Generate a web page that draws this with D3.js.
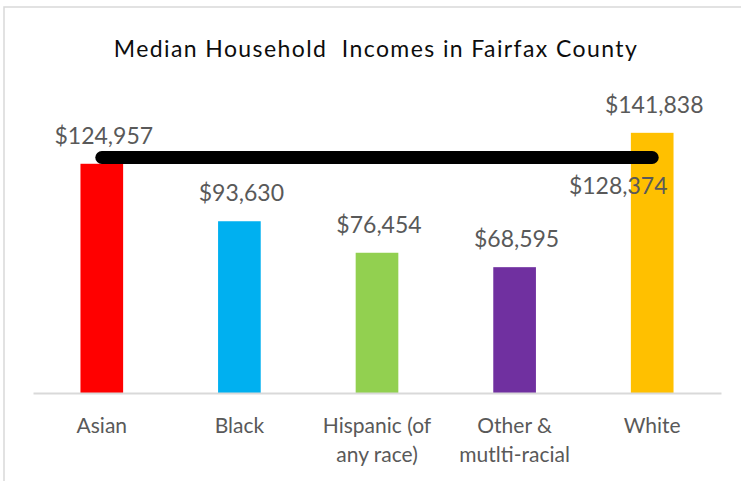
<!DOCTYPE html>
<html>
<head>
<meta charset="utf-8">
<script src="https://cdn.jsdelivr.net/npm/d3@7"></script>
<style>
  body { margin: 0; background: #fff; }
  text { font-family: Lato, "Open Sans", sans-serif; }
</style>
</head>
<body>
<script>
// chart data
const categories = ["Asian", "Black", "Hispanic (of any race)", "Other & mutlti-racial", "White"];
const categoryLines = [["Asian"], ["Black"], ["Hispanic (of", "any race)"], ["Other &", "mutlti-racial"], ["White"]];
const incomes = [124957, 93630, 76454, 68595, 141838];
const countyMedian = 128374;

// office palette, one per bar
const barColors = ["#FF0000", "#00B0F0", "#92D050", "#7030A0", "#FFC000"];

const W = 741, H = 483;
const svg = d3.select("body").append("svg")
    .attr("width", W)
    .attr("height", H);

// chart frame (only left and top edges are in the picture)
svg.append("path")
    .attr("d", "M4,481V7H741")
    .attr("fill", "none")
    .attr("stroke", "#d9d9d9")
    .attr("stroke-width", 1.5);

var xScale = d3.scaleBand()
    .domain(categories)
    .range([33, 721])
    .paddingInner(0.69)
    .paddingOuter(0.345);
var yScale = d3.scaleLinear().domain([0, 160000]).range([393, 99.5]);

const fmt = d => "$" + d3.format(",")(d);

// title
svg.append("text")
    .attr("x", 376)
    .attr("y", 57)
    .attr("text-anchor", "middle")
    .attr("font-size", "23px")
    .attr("letter-spacing", "1.4px")
    .attr("fill", "#0d0d0d")
    .style("white-space", "pre")
    .text("Median Household  Incomes in Fairfax County");

// bars
svg.selectAll(".bar")
    .data(incomes)
    .enter()
    .append("rect")
    .attr("class", "bar")
    .attr("x", (d, i) => xScale(categories[i]))
    .attr("width", xScale.bandwidth())
    .attr("y", d => yScale(d))
    .attr("height", d => yScale(0) - yScale(d))
    .attr("fill", (d, i) => barColors[i]);

// axis baseline
svg.append("g")
    .attr("transform", "translate(0," + yScale(0) + ")")
    .call(d3.axisBottom(xScale).tickSize(0).tickFormat(""))
    .call(g => g.select(".domain").attr("stroke", "#d9d9d9").attr("stroke-width", 2));

// category labels, some on two lines
const lab = svg.selectAll(".cat")
    .data(categories)
    .enter()
    .append("text")
    .attr("class", "cat")
    .attr("text-anchor", "middle")
    .attr("font-size", "21px")
    .attr("fill", "#595959")
    .attr("transform", d => "translate(" + (xScale(d) + xScale.bandwidth() / 2) + ",433)");
lab.selectAll("tspan")
    .data((d, i) => categoryLines[i])
    .enter()
    .append("tspan")
    .attr("x", 0)
    .attr("y", (d, j) => j * 29)
    .text(d => d);

// value labels above bars
svg.selectAll(".val")
    .data(incomes)
    .enter()
    .append("text")
    .attr("class", "val")
    .attr("text-anchor", "middle")
    .attr("font-size", "23px")
    .attr("fill", "#595959")
    .attr("x", (d, i) => xScale(categories[i]) + xScale.bandwidth() / 2 + 2)
    .attr("y", d => yScale(d) - 20)
    .text(fmt);

// county median line, first to last category
const x0 = xScale(categories[0]) + xScale.bandwidth() / 2;
const x1 = xScale(categories[categories.length - 1]) + xScale.bandwidth() / 2;
svg.append("path")
    .attr("d", d3.line()([[x0, yScale(countyMedian)], [x1, yScale(countyMedian)]]))
    .attr("stroke", "#000")
    .attr("stroke-width", 13)
    .attr("stroke-linecap", "round");

svg.append("text")
    .attr("text-anchor", "middle")
    .attr("font-size", "23px")
    .attr("fill", "#595959")
    .attr("x", x1 - 34)
    .attr("y", yScale(countyMedian) + 36)
    .text(fmt(countyMedian));
</script>
</body>
</html>
